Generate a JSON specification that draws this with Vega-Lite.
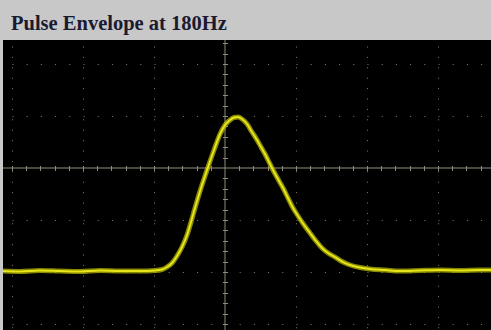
{
  "$schema": "https://vega.github.io/schema/vega-lite/v6.json",
  "autosize": "none",
  "width": 488,
  "height": 290,
  "padding": {"left": 3, "top": 40, "right": 0, "bottom": 0},
  "background": "#c8c8c8",
  "title": {
    "text": "Pulse Envelope at 180Hz",
    "anchor": "start",
    "frame": "group",
    "orient": "top",
    "offset": 13,
    "baseline": "alphabetic",
    "dx": 8,
    "dy": 24,
    "font": "Liberation Serif",
    "fontWeight": "bold",
    "fontSize": 20.5,
    "color": "#1a1a30"
  },
  "config": {"view": {"fill": "#000000", "stroke": null}},
  "data": {
    "values": [
      {"t": -3.127, "v": -1.981}, {"t": -2.887, "v": -1.990}, {"t": -2.606, "v": -1.971},
      {"t": -2.324, "v": -1.981}, {"t": -2.042, "v": -1.990}, {"t": -1.761, "v": -1.971},
      {"t": -1.479, "v": -1.981}, {"t": -1.197, "v": -1.981}, {"t": -0.986, "v": -1.971},
      {"t": -0.887, "v": -1.952}, {"t": -0.817, "v": -1.904}, {"t": -0.746, "v": -1.827},
      {"t": -0.676, "v": -1.692}, {"t": -0.606, "v": -1.519}, {"t": -0.535, "v": -1.288},
      {"t": -0.479, "v": -1.038}, {"t": -0.423, "v": -0.769}, {"t": -0.338, "v": -0.385},
      {"t": -0.239, "v": 0.019}, {"t": -0.155, "v": 0.346}, {"t": -0.070, "v": 0.654},
      {"t": 0.000, "v": 0.827}, {"t": 0.070, "v": 0.923}, {"t": 0.127, "v": 0.971},
      {"t": 0.183, "v": 0.981}, {"t": 0.239, "v": 0.942}, {"t": 0.310, "v": 0.846},
      {"t": 0.380, "v": 0.692}, {"t": 0.451, "v": 0.538}, {"t": 0.507, "v": 0.404},
      {"t": 0.563, "v": 0.269}, {"t": 0.620, "v": 0.115}, {"t": 0.676, "v": -0.038},
      {"t": 0.746, "v": -0.212}, {"t": 0.817, "v": -0.385}, {"t": 0.887, "v": -0.577},
      {"t": 0.958, "v": -0.769}, {"t": 1.028, "v": -0.923}, {"t": 1.113, "v": -1.096},
      {"t": 1.197, "v": -1.250}, {"t": 1.282, "v": -1.404}, {"t": 1.366, "v": -1.538},
      {"t": 1.451, "v": -1.635}, {"t": 1.549, "v": -1.712}, {"t": 1.662, "v": -1.808},
      {"t": 1.761, "v": -1.865}, {"t": 1.901, "v": -1.913}, {"t": 2.042, "v": -1.942},
      {"t": 2.254, "v": -1.962}, {"t": 2.465, "v": -1.981}, {"t": 2.746, "v": -1.971},
      {"t": 3.028, "v": -1.962}, {"t": 3.310, "v": -1.971}, {"t": 3.592, "v": -1.962},
      {"t": 3.746, "v": -1.962}
    ]
  },
  "layer": [
    {
      "data": {"values": [{}]},
      "mark": {"type": "rule", "color": "#8e8e7e", "strokeWidth": 1},
      "encoding": {
        "x": {"datum": 0, "type": "quantitative", "scale": {"domain": [-3.127, 3.746], "nice": false, "zero": false}, "axis": null}
      }
    },
    {
      "data": {"values": [{}]},
      "mark": {"type": "rule", "color": "#8e8e7e", "strokeWidth": 1},
      "encoding": {
        "y": {"datum": 0, "type": "quantitative", "scale": {"domain": [-3.115, 2.4615], "nice": false, "zero": false}, "axis": null}
      }
    },
    {
      "mark": {"type": "line", "color": "#b4b400", "strokeWidth": 5, "opacity": 0.75, "interpolate": "monotone"},
      "encoding": {
        "x": {
          "field": "t", "type": "quantitative",
          "scale": {"domain": [-3.127, 3.746], "nice": false, "zero": false},
          "axis": {
            "orient": "bottom", "values": [-3, -2, -1, 1, 2, 3],
            "grid": true, "gridColor": "#7d7d6a", "gridDash": [1, 9.4], "gridDashOffset": 4.4, "gridWidth": 1,
            "domain": false, "ticks": false, "labels": false, "title": null
          }
        },
        "y": {
          "field": "v", "type": "quantitative",
          "scale": {"domain": [-3.115, 2.4615], "nice": false, "zero": false},
          "axis": {
            "orient": "left", "values": [-3, -2, -1, 1, 2],
            "grid": true, "gridColor": "#7d7d6a", "gridDash": [1, 13.2], "gridDashOffset": 5.2, "gridWidth": 1,
            "domain": false, "ticks": false, "labels": false, "title": null
          }
        }
      }
    },
    {
      "mark": {"type": "line", "color": "#e6e61a", "strokeWidth": 2, "interpolate": "monotone"},
      "encoding": {
        "x": {
          "field": "t", "type": "quantitative",
          "axis": {
            "orient": "bottom", "offset": -164.5,
            "values": [-3, -2.8, -2.6, -2.4, -2.2, -2, -1.8, -1.6, -1.4, -1.2, -1, -0.8, -0.6, -0.4, -0.2, 0.2, 0.4, 0.6, 0.8, 1, 1.2, 1.4, 1.6, 1.8, 2, 2.2, 2.4, 2.6, 2.8, 3, 3.2, 3.4, 3.6],
            "grid": false, "domain": false, "ticks": true, "tickSize": 5, "tickColor": "#8e8e7e", "tickWidth": 1,
            "labels": false, "title": null
          }
        },
        "y": {
          "field": "v", "type": "quantitative",
          "axis": {
            "orient": "left", "offset": -224.5,
            "values": [-3, -2.8, -2.6, -2.4, -2.2, -2, -1.8, -1.6, -1.4, -1.2, -1, -0.8, -0.6, -0.4, -0.2, 0.2, 0.4, 0.6, 0.8, 1, 1.2, 1.4, 1.6, 1.8, 2, 2.2, 2.4],
            "grid": false, "domain": false, "ticks": true, "tickSize": 5, "tickColor": "#8e8e7e", "tickWidth": 1,
            "labels": false, "title": null
          }
        }
      }
    }
  ],
  "resolve": {"axis": {"x": "independent", "y": "independent"}}
}
